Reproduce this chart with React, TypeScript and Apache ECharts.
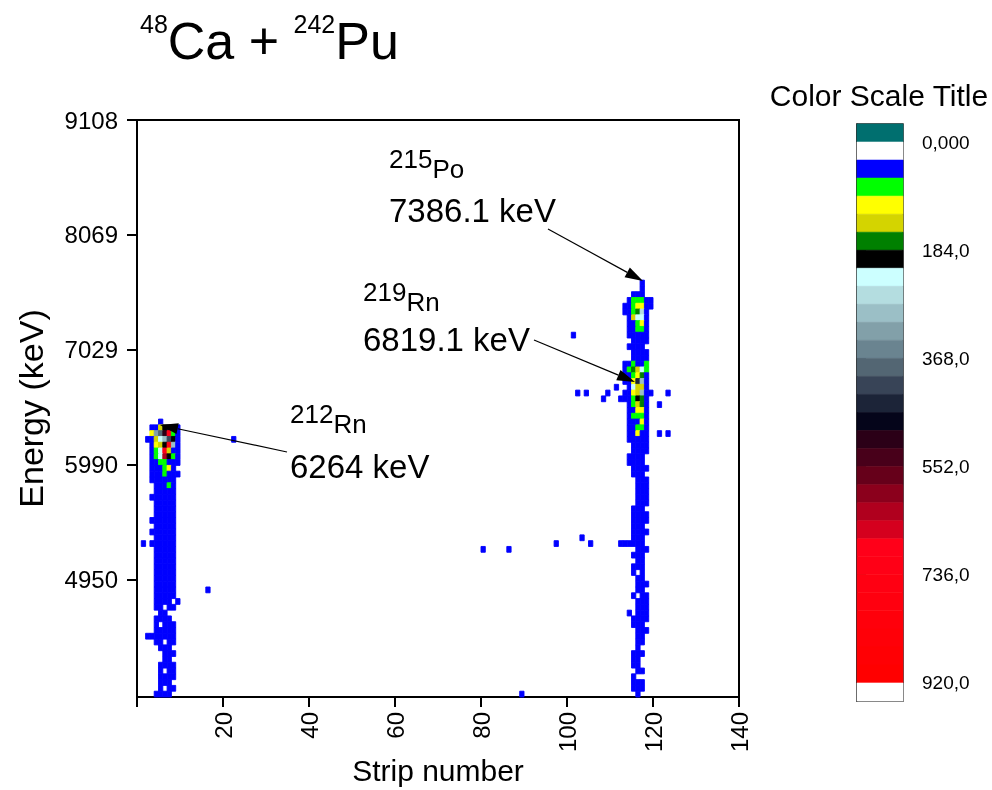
import React, { useEffect, useRef } from 'react';
import * as echarts from 'echarts';

// ---------- axis / binning ----------
const STRIP_MIN = 0;
const STRIP_MAX = 140;
const STRIP_STEP = 20;
const E_MIN = 3890;
const E_MAX = 9108;
const E_BIN = 52.36; // keV per energy row
const ENERGY_TICKS = [4950, 5990, 7029, 8069, 9108];

// ---------- colour scale ----------
const SCALE_MIN = 0;
const SCALE_MAX = 920;
const SCALE_TICKS = [0, 184, 368, 552, 736, 920];
const LEVEL_COLORS = [
  '#ffffff', '#0000ff', '#00ff00', '#ffff00', '#d4d400', '#008000', '#000000',
  '#ccffff', '#b4dde0', '#9bbfc6', '#82a0a9', '#6a8490', '#536673', '#384457',
  '#1c2438', '#05051a', '#2b0017', '#48001a', '#66001a', '#8b001c', '#b0001e',
  '#d5001e', '#ff0019', '#ff0016', '#ff0012', '#ff000f', '#ff000b', '#ff0008',
  '#ff0004', '#ff0000',
];
const UNDER_COLOR = '#006f6f';
const OVER_COLOR = '#ffffff';

// ---------- counts: [energy row, first strip, counts per consecutive strip] ----------
type Row = [number, number, number[]];
const rn212Rows: Row[] = [
  [47, 5, [45]],
  [46, 3, [45, 45, 135, 195, 475, 195, 45]],
  [45, 3, [105, 320, 380, 505, 700, 75, 45]],
  [44, 2, [45, 45, 135, 225, 290, 410, 195, 45]],
  [43, 3, [45, 105, 135, 195, 720, 290, 45]],
  [42, 3, [45, 75, 225, 700, 135, 45, 45]],
  [41, 3, [45, 75, 225, 630, 195, 75, 45]],
  [40, 3, [45, 45, 75, 75, 45, 45, 45]],
  [39, 3, [45, 45, 45, 75, 105, 45]],
  [38, 3, [45, 45, 45, 75, 45, 45, 45]],
  [37, 3, [45, 45, 45, 45, 45, 45]],
  [36, 4, [45, 45, 45, 75, 45]],
  [35, 4, [45, 45, 45, 45, 45]],
  [34, 3, [45, 45, 45, 45, 45, 45]],
  [33, 4, [45, 45, 45, 45, 45]],
  [32, 4, [45, 45, 45, 45, 45]],
  [31, 4, [45, 45, 45, 45, 45]],
  [30, 3, [45, 45, 45, 45, 45, 45]],
  [29, 4, [45, 45, 45, 45, 45]],
  [28, 3, [45, 45, 45, 45, 45, 45]],
  [27, 4, [45, 45, 45, 45, 45]],
  [26, 1, [45, 0, 45, 45, 45, 45, 45, 45]],
  [25, 4, [45, 45, 45, 45, 45]],
  [24, 4, [45, 45, 45, 45, 45]],
  [23, 4, [45, 45, 45, 45, 45]],
  [22, 4, [45, 45, 45, 45, 45]],
  [21, 4, [45, 45, 45, 45, 45]],
  [20, 4, [45, 45, 45, 45, 45]],
  [19, 4, [45, 45, 45, 45, 45]],
  [18, 4, [45, 45, 45, 45, 45]],
  [17, 4, [45, 45, 45, 45, 45]],
  [16, 4, [45, 45, 45, 45, 0, 45]],
  [15, 4, [45, 45, 0, 45, 45]],
  [14, 5, [45, 45]],
  [13, 4, [45, 45, 45, 45]],
  [12, 4, [45, 0, 45, 45, 45]],
  [11, 4, [45, 45, 45, 45, 45]],
  [10, 2, [45, 45, 45, 45, 45, 45, 45]],
  [9, 4, [45, 45, 0, 45, 45]],
  [8, 5, [45, 45, 45]],
  [7, 6, [45, 45, 45]],
  [6, 6, [45, 45]],
  [5, 5, [45, 45, 45, 45]],
  [4, 5, [45, 0, 45, 45]],
  [3, 5, [45, 45, 45, 45]],
  [2, 5, [45, 45, 45]],
  [1, 5, [45, 0, 45, 45]],
  [0, 4, [45, 45, 45, 45]],
];

const po215Rows: Row[] = [
  [71, 117, [45]],
  [70, 117, [45]],
  [69, 115, [45, 45, 45]],
  [68, 114, [45, 75, 75, 75, 45, 45]],
  [67, 113, [45, 45, 75, 105, 105, 45, 45]],
  [66, 113, [45, 45, 75, 165, 260, 45]],
  [65, 114, [45, 135, 225, 225, 45]],
  [64, 114, [45, 45, 75, 105, 45]],
  [63, 114, [45, 45, 75, 75, 45]],
  [62, 114, [45, 45, 45, 45, 45]],
  [61, 115, [45, 45, 45, 45]],
  [60, 114, [45, 45, 45, 45]],
  [59, 115, [45, 45, 45, 45]],
  [58, 115, [45, 45, 45, 45]],
  [57, 113, [45, 45, 75, 45, 45, 75]],
  [56, 113, [45, 75, 165, 135, 225, 75]],
  [55, 113, [45, 45, 75, 105, 165, 45]],
  [54, 113, [45, 45, 105, 440, 290, 45]],
  [53, 114, [45, 225, 135, 135, 45]],
  [52, 113, [45, 45, 105, 135, 290, 45, 45]],
  [51, 112, [45, 45, 45, 75, 195, 165, 45]],
  [50, 114, [45, 75, 135, 165, 45]],
  [49, 114, [45, 45, 105, 105, 45]],
  [48, 114, [45, 75, 75, 75, 45]],
  [47, 114, [45, 45, 45, 105, 45]],
  [46, 114, [45, 45, 75, 75, 45]],
  [45, 114, [45, 45, 105, 45, 45]],
  [44, 114, [45, 45, 45, 45, 45]],
  [43, 115, [45, 45, 45, 45]],
  [42, 115, [45, 45, 45, 45]],
  [41, 114, [45, 45, 45, 45]],
  [40, 114, [45, 45, 45, 45]],
  [39, 115, [45, 45, 45, 45]],
  [38, 115, [45, 45, 45]],
  [37, 116, [45, 45, 45]],
  [36, 116, [45, 45, 45]],
  [35, 116, [45, 45, 45]],
  [34, 116, [45, 45, 45]],
  [33, 116, [45, 45, 45]],
  [32, 115, [45, 45, 45]],
  [31, 115, [45, 45, 45, 45]],
  [30, 115, [45, 45, 45, 45]],
  [29, 115, [45, 45, 45]],
  [28, 115, [45, 45, 45, 45]],
  [27, 115, [45, 45, 45]],
  [26, 112, [45, 45, 45, 45, 45, 45]],
  [25, 116, [45, 45, 45]],
  [24, 115, [45, 45, 45]],
  [23, 116, [45, 45]],
  [22, 115, [45, 45, 45]],
  [21, 115, [45, 0, 45]],
  [20, 116, [45, 45]],
  [19, 116, [45, 45, 45]],
  [18, 116, [45, 45]],
  [17, 115, [45, 0, 45, 45]],
  [16, 116, [45, 45, 45]],
  [15, 116, [45, 45, 45]],
  [14, 114, [45, 0, 45, 45, 45]],
  [13, 115, [45, 45, 45, 45]],
  [12, 115, [45, 45, 45]],
  [11, 116, [45, 45, 45]],
  [10, 116, [45, 45]],
  [9, 116, [45, 45]],
  [8, 116, [45]],
  [7, 115, [45, 45, 45]],
  [6, 115, [45, 45]],
  [5, 115, [45, 45]],
  [4, 116, [45, 45]],
  [3, 115, [45]],
  [2, 115, [45, 45, 45]],
  [1, 115, [45, 45, 45]],
  [0, 116, [45]],
];

// isolated hits: [strip, energy row, counts]
const isolatedHits: [number, number, number][] = [
  [22, 44, 45], [16, 18, 45], [101, 62, 45], [102, 52, 45], [104, 52, 45],
  [109, 52, 45], [111, 53, 45], [108, 51, 45], [123, 52, 45], [121, 50, 45],
  [121, 45, 45], [123, 45, 45], [80, 25, 45], [86, 25, 45], [97, 26, 45],
  [105, 26, 45], [103, 27, 45], [89, 0, 45],
];

const FONT = 'Liberation Sans, Arial, Helvetica, sans-serif';

function expandRows(rows: Row[]): number[][] {
  const out: number[][] = [];
  rows.forEach(([row, start, counts]) => {
    counts.forEach((c, k) => {
      if (c > 0) out.push([start + k, row, c]);
    });
  });
  return out;
}

const LEVEL_WIDTH = (SCALE_MAX - SCALE_MIN) / LEVEL_COLORS.length;
function colorFor(c: number): string {
  const i = Math.min(LEVEL_COLORS.length - 1, Math.max(0, Math.floor((c - SCALE_MIN) / LEVEL_WIDTH)));
  return LEVEL_COLORS[i];
}

function arrow(x1: number, y1: number, x2: number, y2: number, len = 18, half = 5.5): any[] {
  const dx = x2 - x1, dy = y2 - y1;
  const d = Math.sqrt(dx * dx + dy * dy);
  const ux = dx / d, uy = dy / d;
  const bx = x2 - ux * len, by = y2 - uy * len;
  return [
    { type: 'line', shape: { x1, y1, x2: bx, y2: by }, style: { stroke: '#000', lineWidth: 1.2 }, z: 20 },
    {
      type: 'polygon',
      shape: { points: [[x2, y2], [bx - uy * half, by + ux * half], [bx + uy * half, by - ux * half]] },
      style: { fill: '#000' },
      z: 20,
    },
  ];
}

export default function App() {
  const ref = useRef<HTMLDivElement>(null);
  useEffect(() => {
    if (!ref.current) return;
    const chart = echarts.init(ref.current, undefined, { renderer: 'svg' });
    const cells = [...expandRows(rn212Rows), ...expandRows(po215Rows), ...isolatedHits];

    const bandLo: number[] = [];
    const bandColors: string[] = [];
    bandLo.push(SCALE_MIN - LEVEL_WIDTH);
    bandColors.push(UNDER_COLOR);
    LEVEL_COLORS.forEach((c, i) => {
      bandLo.push(SCALE_MIN + i * LEVEL_WIDTH);
      bandColors.push(c);
    });
    bandLo.push(SCALE_MAX);
    bandColors.push(OVER_COLOR);
    const bands = bandLo.map((lo) => [lo, lo + LEVEL_WIDTH]);

    const txt = (x: number, y: number, text: string, size: number, extra: any = {}) => ({
      type: 'text', x, y, z: 20,
      style: { text, fontSize: size, fontFamily: FONT, fill: '#000', verticalAlign: 'middle', ...extra },
    });
    const iso = (x: number, y: number, mass: string, el: string, size: number) => ({
      type: 'text', x, y, z: 20,
      style: {
        text: `{a|${mass}}{b|${el}}`, fontFamily: FONT, fill: '#000', verticalAlign: 'top',
        rich: {
          a: { fontSize: size, fontFamily: FONT, fill: '#000', color: '#000', verticalAlign: 'top', lineHeight: size + 10 },
          b: { fontSize: size, fontFamily: FONT, fill: '#000', color: '#000', verticalAlign: 'bottom', lineHeight: size + 10 },
        },
      },
    });

    chart.setOption({
      animation: false,
      textStyle: { fontFamily: FONT },
      grid: [
        {
          left: 137, top: 120, width: 602, height: 577, show: true, borderColor: '#000', borderWidth: 2,
          containLabel: false, outerBoundsMode: 'none',
        },
        {
          left: 857, top: 124, width: 46, height: 577, show: true, borderColor: '#222', borderWidth: 1.5,
          containLabel: false, outerBoundsMode: 'none',
        },
      ],
      xAxis: [
        {
          type: 'value', gridIndex: 0, min: STRIP_MIN, max: STRIP_MAX, interval: STRIP_STEP,
          name: 'Strip number', nameLocation: 'middle', nameGap: 57, nameMoveOverlap: false,
          nameTextStyle: { fontSize: 30, lineHeight: 32, color: '#000', fontFamily: FONT, verticalAlign: 'top' },
          axisLine: { show: true, onZero: false, lineStyle: { color: '#000', width: 2 } },
          axisTick: { show: true, length: 10, lineStyle: { color: '#000', width: 2 } },
          axisLabel: { rotate: 90, fontSize: 24, color: '#000', margin: 15, formatter: (v: number) => (v === 0 ? '' : String(v)) },
          splitLine: { show: false },
        },
        { type: 'value', gridIndex: 1, min: 0, max: 1, show: false },
      ],
      yAxis: [
        {
          type: 'value', gridIndex: 0, min: E_MIN, max: E_MAX,
          name: 'Energy (keV)', nameLocation: 'middle', nameGap: 89, nameRotate: 90,
          nameTextStyle: { fontSize: 34, color: '#000', fontFamily: FONT },
          axisLine: { show: true, onZero: false, lineStyle: { color: '#000', width: 2 } },
          axisTick: { show: true, length: 10, customValues: ENERGY_TICKS, lineStyle: { color: '#000', width: 2 } },
          axisLabel: { fontSize: 24, color: '#000', margin: 19, customValues: ENERGY_TICKS, formatter: (v: number) => String(Math.round(v)) },
          splitLine: { show: false },
        },
        {
          type: 'value', gridIndex: 1, inverse: true, position: 'right',
          min: SCALE_MIN - LEVEL_WIDTH, max: SCALE_MAX + LEVEL_WIDTH,
          axisLine: { show: true, lineStyle: { color: '#222', width: 1.5 } },
          axisTick: { show: true, length: 9, customValues: SCALE_TICKS, lineStyle: { color: '#222', width: 1.5 } },
          axisLabel: {
            fontSize: 19, color: '#000', margin: 19, customValues: SCALE_TICKS,
            formatter: (v: number) => Number(v).toPrecision(4).replace('.', ','),
          },
          splitLine: { show: false },
        },
      ],
      series: [
        {
          type: 'custom', xAxisIndex: 0, yAxisIndex: 0, data: cells,
          renderItem: (params: any, api: any) => {
            const s = api.value(0), r = api.value(1), c = api.value(2);
            const e0 = E_MIN + r * E_BIN, e1 = e0 + E_BIN;
            const p0 = api.coord([s, e1]);
            const p1 = api.coord([s + 1, e0]);
            const col = colorFor(c);
            return {
              type: 'rect',
              shape: { x: p0[0], y: p0[1], width: p1[0] - p0[0], height: p1[1] - p0[1] },
              style: { fill: col, stroke: col, lineWidth: 0.9 },
            };
          },
        },
        {
          type: 'custom', xAxisIndex: 1, yAxisIndex: 1, data: bands,
          renderItem: (params: any, api: any) => {
            const lo = api.value(0), hi = api.value(1);
            const p0 = api.coord([0, lo]);
            const p1 = api.coord([1, hi]);
            const col = bandColors[params.dataIndex];
            return {
              type: 'rect',
              shape: { x: p0[0], y: Math.min(p0[1], p1[1]), width: p1[0] - p0[0], height: Math.abs(p1[1] - p0[1]) },
              style: { fill: col, stroke: col, lineWidth: 0.6 },
            };
          },
        },
      ],
      graphic: [
        {
          type: 'text', x: 140, y: 11, z: 20,
          style: {
            text: '{s|48}{n|Ca + }{s|242}{n|Pu}', fontFamily: FONT, fill: '#000', verticalAlign: 'top',
            rich: {
              s: { fontSize: 25, fontFamily: FONT, fill: '#000', color: '#000', verticalAlign: 'top', lineHeight: 56 },
              n: { fontSize: 52, fontFamily: FONT, fill: '#000', color: '#000', verticalAlign: 'bottom', lineHeight: 56 },
            },
          },
        },
        txt(879, 95, 'Color Scale Title', 30, { align: 'center' }),
        iso(389, 146, '215', 'Po', 26),
        txt(389, 210, '7386.1 keV', 33),
        iso(363, 279, '219', 'Rn', 26),
        txt(363, 339, '6819.1 keV', 33),
        iso(290, 401, '212', 'Rn', 26),
        txt(290, 466, '6264 keV', 33),
        ...arrow(548, 229, 643, 281),
        ...arrow(534, 340, 635, 382),
        ...arrow(287, 452, 160, 425),
      ],
    });
    return () => chart.dispose();
  }, []);
  return <div ref={ref} style={{ position: 'fixed', left: 0, top: 0, width: 992, height: 790 }} />;
}
